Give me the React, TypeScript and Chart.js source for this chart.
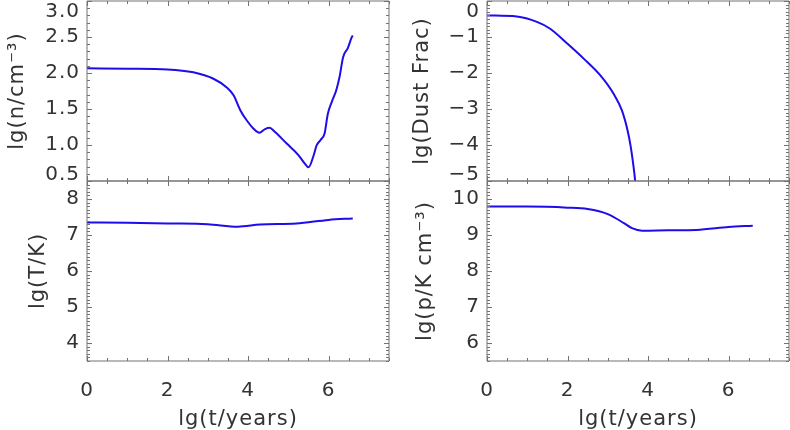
import React, { useEffect, useRef } from "react";
import { Chart, registerables } from "chart.js";

Chart.register(...registerables);

// ---------------- data ----------------
const xTickValues = [0, 2, 4, 6];
const xMin = 0;
const xMax = 7.5;
const xTitle = "lg(t/years)";

// lg(n/cm^-3)
const densityTime = [0, 1.0, 2.0, 2.64, 3.14, 3.47, 3.64, 3.81, 3.97, 4.13, 4.28, 4.42, 4.53, 4.67, 4.96, 5.25, 5.41, 5.5, 5.62, 5.7, 5.8, 5.9, 5.98, 6.08, 6.19, 6.27, 6.36, 6.48, 6.57, 6.6];
const densityValue = [2.065, 2.06, 2.05, 2.01, 1.92, 1.8, 1.69, 1.48, 1.34, 1.23, 1.17, 1.22, 1.24, 1.18, 1.02, 0.86, 0.74, 0.69, 0.84, 0.99, 1.07, 1.16, 1.43, 1.6, 1.76, 1.94, 2.22, 2.35, 2.49, 2.52];
const densityTicks = [0.5, 1.0, 1.5, 2.0, 2.5, 3.0];

// lg(T/K)
const tempTime = [0, 1, 2, 3, 3.75, 4.3, 5.2, 6, 6.6];
const tempValue = [7.35, 7.34, 7.32, 7.3, 7.23, 7.29, 7.32, 7.42, 7.46];
const tempTicks = [4, 5, 6, 7, 8];

// lg(Dust Frac)
const dustTime = [0, 0.74, 1.24, 1.57, 1.99, 2.4, 2.81, 3.14, 3.35, 3.49, 3.57, 3.64, 3.68, 3.71];
const dustValue = [-0.4, -0.43, -0.58, -0.77, -1.18, -1.6, -2.06, -2.57, -3.04, -3.59, -4.05, -4.61, -5.0, -5.4];
const dustTicks = [-5, -4, -3, -2, -1, 0];

// lg(p/K cm^-3)
const pressTime = [0, 1, 2, 2.5, 3, 3.4, 3.6, 3.85, 4.5, 5.2, 6, 6.6];
const pressValue = [9.79, 9.79, 9.76, 9.72, 9.58, 9.33, 9.19, 9.12, 9.13, 9.14, 9.22, 9.26];
const pressTicks = [6, 7, 8, 9, 10];

// ---------------- style ----------------
const BLUE = "#1e0de8";
const FRAME = "#737373";
const TEXT = "#333333";
const FONT = "'DejaVu Sans', sans-serif";
const TICK_SIZE = 20;
const TITLE_SIZE = 21;
const LETTER_SPACING = "1px";
const X_MINOR = 0.5;
const MAJOR_LEN = 5;
const MINOR_LEN = 3;

type Spec = {
  xs: number[];
  ys: number[];
  yMin: number;
  yMax: number;
  yTicks: number[];
  yFormat: (v: number) => string;
  yTitle: string;
  yTitlePad: number;
  showX: boolean;
  shiftEdges: boolean;
  padRight: number;
  padTop: number;
  padBottom: number;
  yMinor: number;
};

function frame(spec: Spec) {
  return {
    id: "idlFrame",
    afterDraw(chart: any) {
      const { ctx, chartArea: a } = chart;
      const xs = chart.scales.x;
      const ys = chart.scales.y;
      ctx.save();
      ctx.letterSpacing = "0px";
      ctx.strokeStyle = FRAME;
      ctx.lineWidth = 1;
      ctx.beginPath();
      ctx.rect(a.left, a.top, a.right - a.left, a.bottom - a.top);
      const nx = Math.round((xMax - xMin) / X_MINOR);
      for (let i = 0; i <= nx; i++) {
        const v = xMin + i * X_MINOR;
        const major = xTickValues.some((t) => Math.abs(t - v) < 1e-6);
        const len = major ? MAJOR_LEN : MINOR_LEN;
        const px = Math.round(xs.getPixelForValue(v)) + 0.5;
        ctx.moveTo(px, a.bottom);
        ctx.lineTo(px, a.bottom - len);
        ctx.moveTo(px, a.top);
        ctx.lineTo(px, a.top + len);
      }
      const ny = Math.round((spec.yMax - spec.yMin) / spec.yMinor);
      for (let i = 0; i <= ny; i++) {
        const v = spec.yMin + i * spec.yMinor;
        const major = spec.yTicks.some((t) => Math.abs(t - v) < 1e-6);
        const len = major ? MAJOR_LEN : MINOR_LEN;
        const py = Math.round(ys.getPixelForValue(v)) + 0.5;
        ctx.moveTo(a.left, py);
        ctx.lineTo(a.left + len, py);
        ctx.moveTo(a.right, py);
        ctx.lineTo(a.right - len, py);
      }
      ctx.stroke();
      ctx.restore();
    },
  };
}

const spacing = {
  id: "spacing",
  beforeDraw(chart: any) {
    chart.ctx.letterSpacing = LETTER_SPACING;
  },
  afterDraw(chart: any) {
    chart.ctx.letterSpacing = "0px";
  },
};

function build(canvas: HTMLCanvasElement, spec: Spec) {
  return new Chart(canvas, {
    type: "line",
    data: {
      datasets: [
        {
          data: spec.xs.map((x, i) => ({ x, y: spec.ys[i] })),
          borderColor: BLUE,
          borderWidth: 2,
          pointRadius: 0,
          cubicInterpolationMode: "monotone",
          fill: false,
          clip: 0,
        } as any,
      ],
    },
    options: {
      animation: false,
      responsive: false,
      devicePixelRatio: 1,
      layout: { padding: { left: 0, right: spec.padRight, top: spec.padTop, bottom: spec.padBottom } },
      plugins: { legend: { display: false }, tooltip: { enabled: false } },
      scales: {
        x: {
          type: "linear",
          min: xMin,
          max: xMax,
          display: spec.showX,
          afterBuildTicks: (s: any) => {
            s.ticks = xTickValues.map((v) => ({ value: v }));
          },
          afterFit: (s: any) => {
            s.height = spec.showX ? 69 : 0;
            s.paddingLeft = 0;
            s.paddingRight = 0;
          },
          grid: { display: false, drawTicks: false },
          border: { display: false },
          ticks: {
            autoSkip: false,
            maxRotation: 0,
            padding: 18,
            color: TEXT,
            font: { family: FONT, size: TICK_SIZE },
            callback: (v: any) => String(v),
          },
          title: {
            display: true,
            text: xTitle,
            color: TEXT,
            font: { family: FONT, size: TITLE_SIZE },
            padding: { top: 0, bottom: -2 },
          },
        },
        y: {
          type: "linear",
          min: spec.yMin,
          max: spec.yMax,
          afterBuildTicks: (s: any) => {
            s.ticks = spec.yTicks.map((v) => ({ value: v }));
          },
          afterFit: (s: any) => {
            s.width = 87;
            s.paddingTop = 0;
            s.paddingBottom = 0;
          },
          grid: { display: false, drawTicks: false },
          border: { display: false },
          ticks: {
            autoSkip: false,
            padding: 7,
            color: TEXT,
            font: (c: any) => {
              let lh: any = 1.2;
              if (spec.shiftEdges) {
                if (c.index === spec.yTicks.length - 1) lh = "22px";
                else if (c.index === 0) lh = "12px";
              }
              return { family: FONT, size: TICK_SIZE, lineHeight: lh };
            },
            callback: (v: any, index: number, ticks: any[]) => {
              const s = spec.yFormat(Number(v));
              if (spec.shiftEdges) {
                if (index === ticks.length - 1) return ["", s];
                if (index === 0) return [s, ""];
              }
              return s;
            },
          },
          title: {
            display: true,
            text: spec.yTitle,
            color: TEXT,
            font: { family: FONT, size: TITLE_SIZE },
            padding: { top: spec.yTitlePad, bottom: 0 },
          },
        },
      },
    } as any,
    plugins: [spacing, frame(spec)],
  });
}

const fmt1 = (v: number) => v.toFixed(1);
const fmtInt = (v: number) => (v < 0 ? "\u2212" + String(-v) : String(v));

export default function App() {
  const tl = useRef<HTMLCanvasElement>(null);
  const bl = useRef<HTMLCanvasElement>(null);
  const tr = useRef<HTMLCanvasElement>(null);
  const br = useRef<HTMLCanvasElement>(null);

  useEffect(() => {
    const charts = [
      build(tl.current!, {
        xs: densityTime, ys: densityValue, yMin: 0.5, yMax: 3.0, yTicks: densityTicks, yFormat: fmt1,
        yTitle: "lg(n/cm\u207B\u00B3)", yTitlePad: 5, showX: false, shiftEdges: true,
        padRight: 11, padTop: 1, padBottom: 9, yMinor: 0.1,
      }),
      build(bl.current!, {
        xs: tempTime, ys: tempValue, yMin: 3.5, yMax: 8.5, yTicks: tempTicks, yFormat: fmtInt,
        yTitle: "lg(T/K)", yTitlePad: 26, showX: true, shiftEdges: false,
        padRight: 11, padTop: 5, padBottom: 0, yMinor: 0.1,
      }),
      build(tr.current!, {
        xs: dustTime, ys: dustValue, yMin: -5, yMax: 0, yTicks: dustTicks, yFormat: fmtInt,
        yTitle: "lg(Dust Frac)", yTitlePad: 10, showX: false, shiftEdges: true,
        padRight: 1, padTop: 1, padBottom: 9, yMinor: 0.1,
      }),
      build(br.current!, {
        xs: pressTime, ys: pressValue, yMin: 5.5, yMax: 10.5, yTicks: pressTicks, yFormat: fmtInt,
        yTitle: "lg(p/K cm\u207B\u00B3)", yTitlePad: 13, showX: true, shiftEdges: false,
        padRight: 1, padTop: 5, padBottom: 0, yMinor: 0.1,
      }),
    ];
    return () => charts.forEach((c) => c.destroy());
  }, []);

  const cs = (left: number, top: number, w: number, h: number): React.CSSProperties => ({
    position: "absolute", left, top, width: w, height: h,
  });

  return (
    <div style={{ position: "absolute", left: 0, top: 0, width: 790, height: 430, background: "#ffffff", overflow: "hidden" }}>
      <canvas ref={tl} width={400} height={190} style={cs(0, 0, 400, 190)} />
      <canvas ref={bl} width={400} height={254} style={cs(0, 176, 400, 254)} />
      <canvas ref={tr} width={390} height={190} style={cs(400, 0, 390, 190)} />
      <canvas ref={br} width={390} height={254} style={cs(400, 176, 390, 254)} />
    </div>
  );
}
